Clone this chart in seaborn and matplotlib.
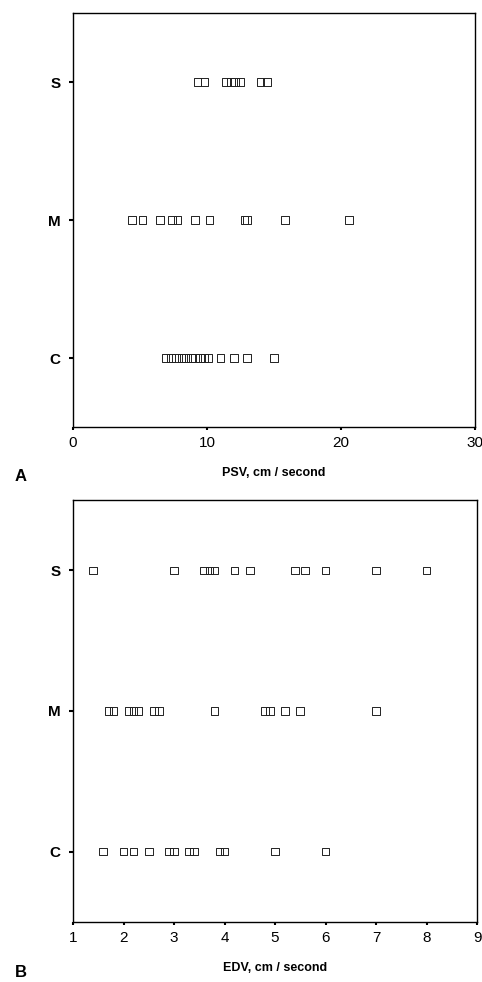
import seaborn as sns
import pandas as pd
import numpy as np
import matplotlib.pyplot as plt

groups = ['S', 'M', 'C']

psv_S = [9.3, 9.8, 11.4, 11.8, 12.1, 12.5, 14.0, 14.5]
psv_M = [4.4, 5.2, 6.5, 7.4, 7.8, 9.1, 10.2, 12.8, 13.0, 15.8, 20.6]
psv_C = [6.9, 7.3, 7.7, 8.1, 8.4, 8.8, 9.1, 9.5, 9.8, 10.1, 11.0, 12.0, 13.0, 15.0]

edv_S = [1.4, 3.0, 3.6, 3.7, 3.8, 4.2, 4.5, 5.4, 5.6, 6.0, 7.0, 8.0]
edv_M = [1.7, 1.8, 2.1, 2.2, 2.3, 2.6, 2.7, 3.8, 4.8, 4.9, 5.2, 5.5, 7.0]
edv_C = [1.6, 2.0, 2.2, 2.5, 2.9, 3.0, 3.3, 3.4, 3.9, 4.0, 5.0, 6.0]

psv_ticks = [0, 10, 20, 30]
edv_ticks = [1, 2, 3, 4, 5, 6, 7, 8, 9]


def make_df(s, m, c):
    return pd.DataFrame({
        'group': ['S'] * len(s) + ['M'] * len(m) + ['C'] * len(c),
        'value': s + m + c,
    })


sns.set_style('white')
plt.rcParams['font.family'] = ['Liberation Sans', 'DejaVu Sans']
plt.rcParams['text.color'] = 'black'
plt.rcParams['axes.labelcolor'] = 'black'
plt.rcParams['xtick.color'] = 'black'
plt.rcParams['ytick.color'] = 'black'

fig = plt.figure(figsize=(4.82, 9.82), dpi=100)
W, H = 482, 982
ax1 = fig.add_axes([73 / W, 1 - 427 / H, 402 / W, 414 / H])
ax2 = fig.add_axes([73 / W, 1 - 922 / H, 404 / W, 422 / H])

panels = [
    (ax1, make_df(psv_S, psv_M, psv_C), psv_ticks, 'PSV, cm / second', 'A'),
    (ax2, make_df(edv_S, edv_M, edv_C), edv_ticks, 'EDV, cm / second', 'B'),
]

for ax, df, ticks, xlabel, letter in panels:
    sns.stripplot(data=df, x='value', y='group', order=groups, jitter=False,
                  marker='s', size=5.5, color='black', linewidth=0.7,
                  edgecolor='black', ax=ax)
    for coll in ax.collections:
        coll.set_facecolor('none')
        coll.set_edgecolor('#222222')
    ax.set_xlim(ticks[0], ticks[-1])
    ax.set_ylim(2.5, -0.5)
    ax.set_xticks(ticks)
    ax.set_xticklabels([str(t) for t in ticks], fontsize=11)
    ax.set_yticks(range(len(groups)))
    ax.set_yticklabels(groups, fontsize=11, fontweight='bold')
    ax.tick_params(axis='both', bottom=True, left=True, direction='out',
                   length=3, width=1.5, color='black', pad=6)
    ax.tick_params(axis='x', length=2.5, pad=4)
    for sp in ax.spines.values():
        sp.set_color('black')
        sp.set_linewidth(1.0)
    ax.set_xlabel(xlabel, fontsize=9, fontweight='bold', labelpad=12)
    ax.set_ylabel('')
    ax.text(-0.13, -0.12, letter, transform=ax.transAxes, fontsize=12,
            fontweight='bold', ha='center', va='center')

fig.savefig('out.png', dpi=100)
